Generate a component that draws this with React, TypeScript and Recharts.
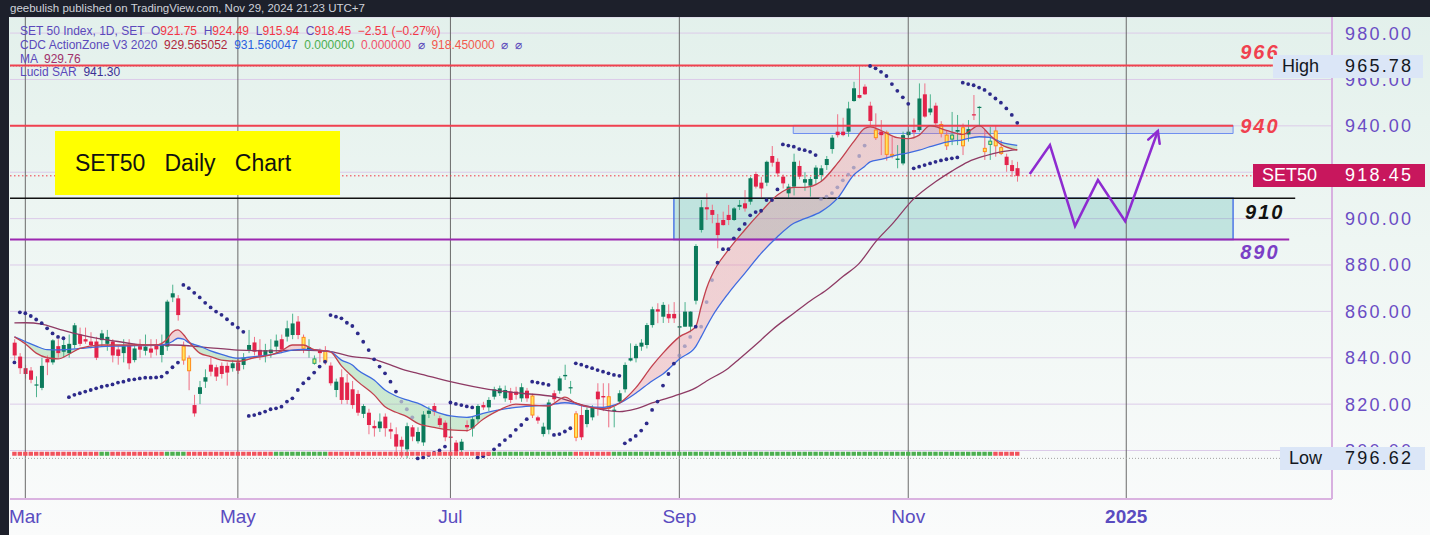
import React from 'react';
import {
  ComposedChart, XAxis, YAxis, CartesianGrid, Bar, Line, Area, Scatter,
  ReferenceLine, ReferenceArea, ReferenceDot,
} from 'recharts';

// ---------------- data (bar index: 0 = 1 Mar 2024, -2 = 28 Feb) ----------------
const FIRST_BAR = -2;

const OPEN = [
  846.5, 840.5, 835.5, 834.5, 828, 827, 839.5, 838, 845, 842.6,
  842, 845.5, 850, 848, 847, 847, 847.6, 846, 847, 843.6,
  842, 845.5, 839, 845, 843, 844, 845.8, 841.2, 844.8, 866,
  865.6, 845, 839.8, 819.6, 824.4, 829.7, 837, 835.9, 836.5, 836.5,
  835.5, 838, 836.9, 843.4, 846.6, 843.4, 841.2, 842, 844.8, 848,
  849.1, 849.8, 855.6, 848.8, 843.2, 837.6, 843, 843, 836.6, 826.1,
  831.6, 829.3, 826.4, 824.4, 815.8, 816.3, 810.6, 809.6, 814.6, 809.2,
  807, 804.6, 800.5, 810, 804, 803.5, 815.8, 819.2, 813.9, 812,
  806, 803.4, 800.2, 811, 809.5, 813.5, 819.6, 818.6, 823.2, 824.7,
  822.5, 825.4, 825.4, 822.5, 825.8, 823.5, 814.3, 807.1, 809, 824.7,
  825.8, 832, 826.8, 815.8, 815.3, 811.4, 814.3, 825.4, 823.5, 823.2,
  817.2, 821.1, 826.4, 838.8, 839.8, 844.8, 845.5, 854.1, 860.9, 857.7,
  858.9, 858.9, 853, 853.4, 853.4, 864.6, 895.1, 904.9, 903.7, 898.2,
  899.4, 901.6, 899.4, 905.1, 906.6, 907.3, 919.2, 915.5, 915.5, 927,
  924.5, 918.1, 910.9, 913.8, 922.7, 915.5, 914.2, 917.1, 918.8, 923.1,
  930, 937.5, 937.5, 937.5, 950.7, 953.3, 956.9, 948.7, 938.2, 937.5,
  937.2, 927.7, 925.3, 923.8, 936, 938.2, 938.2, 953.6, 945.8, 948.7,
  940.6, 936, 934.3, 937.5, 939.2, 936.3, 945, 947.8, 930.3, 932,
  937.8, 930.6, 926.7, 923.1, 921.75,
];
const HIGH = [
  848, 842, 837, 836, 832, 840, 841, 848, 848, 848,
  850, 855, 853, 853, 851, 849, 852, 852, 848, 845,
  848, 848, 846, 848, 850, 848, 848, 850, 865, 871.5,
  867, 847, 841, 824, 830, 835, 840, 837, 838, 838,
  839, 840, 842, 852, 849, 848, 846, 848, 850, 850,
  856, 859, 858, 850, 848, 841, 844, 845, 838, 831,
  835, 833, 830, 826, 820, 818, 813, 816, 816, 812,
  810, 806, 812, 811, 810, 817, 819, 820.5, 815, 813,
  810, 804.5, 805, 813, 814.5, 820, 821, 823, 827.5, 828,
  828, 827, 827.5, 829, 827, 824.5, 815, 812, 822, 826,
  832, 837, 830, 817, 820, 818.5, 819.5, 829, 829, 829,
  819, 826, 838, 846.2, 846, 848, 855, 862, 863.5, 864,
  863, 864, 859, 864, 860, 889, 908, 910.9, 906, 902,
  903, 905.9, 905, 908, 912.3, 918, 920.2, 918, 925, 931.3,
  926, 919, 915, 928, 925, 920, 918, 923, 923, 927,
  936, 945, 943.5, 950.4, 959, 965.78, 957.9, 950.4, 945.4, 942.5,
  938, 935.3, 931.7, 937.5, 938.5, 943.2, 958.3, 958.3, 953.6, 950,
  942, 937.8, 946, 944.7, 941, 942.5, 953.3, 948.5, 938.2, 939.6,
  940.3, 933.9, 928, 925.2, 924.49,
];
const LOW = [
  839, 833, 831, 829, 823, 826, 832.5, 837, 840, 840,
  840, 844, 845, 846, 844, 839, 845, 843, 838, 837,
  838, 835, 838, 840, 841, 840, 841, 838, 843, 864,
  856, 837, 826, 814.6, 820, 827, 832, 830, 831, 828,
  834, 833, 835, 842, 841, 839, 838, 840, 842, 842,
  847, 848, 848, 842, 840, 837, 838, 837, 828, 823,
  820, 820, 818, 815, 814, 807, 806, 808, 806, 805,
  797.5, 797, 796.62, 804, 803, 802, 814, 815, 810, 804,
  797.5, 798, 799, 808, 806, 812, 817.5, 817, 822, 823.5,
  821, 820.5, 822, 821, 821, 814, 811.5, 806, 807, 821,
  824.5, 830.4, 824.5, 804, 804.5, 810, 813, 815, 817, 810,
  810, 820, 825, 838.4, 838, 843, 844, 853, 854.9, 855,
  855, 855, 849.5, 853.4, 851, 863, 894, 899.4, 898, 887.2,
  897, 897.2, 899, 903.7, 903, 906, 913, 908.7, 914, 922.4,
  918, 913, 909, 910, 917, 912, 909.5, 915, 916, 921,
  928, 935, 935.5, 935.3, 950.4, 951.8, 953.3, 939.6, 933.9, 927.4,
  925, 926, 921.7, 923, 935, 934.6, 937.5, 943.5, 944.6, 940,
  935, 929.6, 931.7, 931.7, 927.4, 933.2, 942.5, 939.6, 925.3, 925.3,
  926.7, 927.4, 920.2, 918, 915.94,
];
const CLOSE = [
  841, 835.5, 833, 830.5, 828.5, 836.5, 838, 847.5, 842, 845.5,
  846, 854, 846, 847, 845.5, 840, 850.5, 849, 841, 840.8,
  845, 837.6, 844, 843.5, 844.8, 842.2, 843.6, 845.5, 864.2, 867.8,
  858.4, 839, 834.4, 816, 827.3, 831.6, 834, 831.9, 833, 833.6,
  837.6, 834.4, 839.8, 845.5, 842.6, 840.8, 843.3, 843.5, 847.4, 843.5,
  852.7, 854.8, 849.8, 844.1, 844.5, 839.5, 842, 838.3, 829, 829.7,
  821.8, 821.8, 819.6, 816.3, 819.2, 811, 809.6, 812.5, 809.6, 808.2,
  801.7, 801.7, 810.5, 806, 808, 815.5, 817.2, 816.8, 811, 805.7,
  805.5, 799.5, 803.8, 810, 813.5, 819.2, 818.6, 821.8, 826.4, 826.8,
  826.1, 821.8, 824, 827.3, 822.5, 815.3, 812.9, 810.3, 820.7, 822.1,
  831.1, 832.6, 827.3, 805.7, 805.7, 817.5, 818.6, 822.1, 822.9, 818.2,
  817.6, 824.7, 836.9, 839.8, 845.1, 846.5, 854.1, 860.9, 859.9, 862.8,
  857, 857, 853.6, 859.9, 859.9, 888.2, 904.9, 904, 901.6, 892.9,
  897.2, 899.4, 904.4, 905.9, 904.4, 917.4, 913.8, 913, 924.5, 924.1,
  919.5, 915.2, 913.8, 924.5, 918.1, 917, 917.1, 922, 921.7, 925.7,
  934.9, 936, 936, 947.5, 956.2, 952.1, 953.6, 942.1, 934.9, 936,
  927.7, 927.1, 925.9, 936, 937.5, 937.2, 951.8, 944, 947.5, 941.1,
  936.8, 931.4, 936, 938.2, 931.4, 938.6, 944.5, 948.2, 928.9, 933.4,
  931.4, 928.1, 923.1, 920.5, 918.45,
];
// candle colouring by the CDC ActionZone: g = green, r = red, o = orange/yellow, y = yellow (green edge)
const KIND = (
  'rrrrggrgrg' + 'ggrrrrggrr' + 'grgrgrrggg' + 'roorggrrrr' + 'grggrrgggr' +
  'ggrogyrorg' + 'rrrrgrrgrr' + 'rrgrgggrrr' + 'rrgrggrggg' + 'grrgrorggr' +
  'gggorggrro' + 'ggggggggrg' + 'rrgggggrrr' + 'rrggrgrrgr' + 'rrggrggggg' +
  'grrggrrror' + 'oogggrgrgr' + 'ooygogrgoy' + 'oorrr'
).split('');

// zone strip at the bottom (runs of bars)
const ZONE_RUNS: [string, number][] = [
  ['r', 16], ['g', 2], ['r', 10], ['g', 4], ['r', 16], ['g', 10],
  ['r', 30], ['g', 15], ['r', 7], ['g', 70], ['r', 5],
];
const ZONE_LEVEL = 798.6;

// Lucid SAR, one value per bar
const SAR = [
  838, 859.6, 859.2, 858, 856.5, 854.9, 852.7, 850.5, 849, 848.4,
  823, 824, 824.7, 825.4, 826.1, 826.8, 827.5, 828, 828.5, 829.3,
  829.7, 830.4, 830.7, 831.1, 831.4, 831.4, 831.5, 831.9, 833.6, 835.9,
  837.9, 871.4, 870, 868, 866, 863.7, 861.7, 859.9, 858.5, 856.6,
  854.6, 853, 851.2, 814.9, 815.3, 816, 816.8, 817.8, 818.2, 818.9,
  821.1, 822.5, 826.1, 829, 831.1, 833.6, 836.2, 838.3, 858.4, 857.7,
  857, 855.1, 853.7, 850.5, 846.9, 843.3, 839.3, 836.2, 833.3, 829.7,
  825.4, 821.1, 817.8, 814.3, 796.6, 797, 798.1, 799, 800, 801.7,
  820.7, 820.1, 819.6, 819, 818.6, 797, 797.5, 798.5, 800.5, 802.4,
  804.5, 806.3, 808.9, 811, 813.5, 829.7, 829.3, 828.8, 828.3, 806.7,
  807.1, 808.2, 809.6, 837.6, 837, 836.2, 835.5, 834.7, 834, 833.3,
  832.6, 832.2, 803.1, 804.6, 806.3, 808.6, 811.7, 817.5, 821.1, 828,
  833, 837.5, 841, 845, 849, 853.4, 853.4, 864, 873.5, 881,
  886.8, 886.8, 891.5, 895.4, 897.7, 901.4, 902.8, 903.4, 908, 908,
  912.6, 932, 931.5, 931, 930, 929.5, 928.8, 927.4, 908.5, 909.5,
  911, 913.5, 916.5, 919, 922, 927, 931.5, 965.8, 964.8, 963.3,
  961.5, 958, 955.1, 952.3, 949.5, 921.7, 922.4, 923.1, 923.8, 924.5,
  925.1, 925.6, 926, 926.4, 958.6, 958, 957.5, 956.5, 955.5, 953.7,
  951.8, 950, 947.5, 944.7, 941.3,
];

// CDC ActionZone fast / slow EMA read at these bars
const EMA_IDX = [
  -2, 0, 2, 4, 6, 8, 10, 14, 16, 20,
  24, 26, 27, 28, 29, 30, 32, 34, 36, 39,
  42, 45, 47, 49, 51, 53, 55, 56, 58, 60,
  61, 64, 66, 68, 70, 72, 75, 78, 81, 84,
  87, 90, 93, 96, 99, 101, 103, 106, 109, 112,
  115, 117, 120, 123, 124, 125, 126, 129, 132, 135,
  138, 141, 143, 146, 149, 152, 154, 155, 157, 160,
  162, 164, 166, 169, 172, 175, 177, 179, 182,
];
const EMA_FAST = [
  849, 846, 842, 840, 839.5, 841.5, 844, 845.5, 845.5, 845.5,
  845.5, 848, 851, 852, 850, 847, 842, 840.5, 839, 838.5,
  840, 841.2, 843, 845.5, 845.5, 843.5, 843, 842.5, 836.5, 831.9,
  829.7, 824, 818.9, 816.5, 814.6, 811.7, 810, 808.9, 808.6, 813.5,
  817.5, 820, 819.5, 819.2, 823, 820.4, 818.9, 818, 820.4, 827,
  836.5, 842, 849, 853.4, 862, 870, 875.7, 886.5, 895.1, 903,
  910.2, 913.5, 913.5, 916, 923.8, 933.2, 938.9, 939.6, 938, 934.9,
  934.5, 936, 940.1, 938, 936.3, 940.1, 936, 932, 929.57,
];
const EMA_SLOW = [
  849, 847, 845, 843.5, 843.4, 843.6, 844, 844.8, 845, 845.2,
  845.3, 846, 847, 848.4, 848, 846.5, 845, 843, 841.5, 839.8,
  840.5, 841.2, 842.2, 843.3, 843.6, 843.5, 843, 842.6, 839, 836.9,
  834.7, 830.4, 826.1, 823.5, 821.8, 820.4, 817, 814.9, 814.3, 816,
  817.5, 818.6, 819.2, 819.6, 820.6, 820, 818.9, 818.6, 820.4, 824.7,
  830, 833, 839.5, 844.8, 849, 853.5, 857.7, 867.8, 876.4, 885,
  892.2, 898, 900, 903, 908.7, 918.8, 922.5, 924.5, 925.5, 927.5,
  928.3, 929.5, 931, 933, 934, 935.3, 935, 933, 931.56,
];

// MA read at these bars
const MA_IDX = [
  -2, 0, 3, 6, 9, 13, 17, 22, 27, 33,
  39, 45, 51, 56, 60, 64, 67, 70, 72, 78,
  85, 91, 97, 103, 109, 112, 115, 119, 123, 125,
  129, 131, 135, 137, 141, 144, 147, 150, 153, 156,
  159, 163, 167, 170, 173, 176, 179, 182,
];
const MA_VAL = [
  855, 855.1, 854.5, 852.5, 850.5, 848.5, 847, 845.5, 845.5, 844.5,
  843.3, 843, 843.3, 842.6, 840.5, 839.3, 836.9, 834.4, 833.3, 829.7,
  826.4, 824.7, 823.2, 819.2, 816.8, 818, 820.5, 823.5, 827, 830,
  835.5, 839.5, 847.7, 852, 859.2, 864.5, 869.2, 875, 880.7, 890,
  897.5, 908.5, 915.9, 920.5, 924.5, 927, 928.8, 929.76,
];

// hand-drawn projection (zig-zag) in bar / price units
const PROJ_IDX = [184.3, 188, 192.6, 196.8, 201.8, 207.8];
const PROJ_VAL = [919.2, 931.7, 896.8, 916.6, 898.9, 937.8];

const MONTH_TICKS = [0, 39, 78, 120, 162, 202];
const MONTH_LABELS = ['Mar', 'May', 'Jul', 'Sep', 'Nov', '2025'];
const PRICE_TICKS = [800, 820, 840, 860, 880, 900, 920, 940, 960, 980];

const LEVEL_HIGH = 966;
const LEVEL_RES = 940;
const LEVEL_SUP1 = 908.8;
const LEVEL_SUP2 = 891;
const LAST_PRICE = 918.45;
const PERIOD_HIGH = 965.78;
const PERIOD_LOW = 796.62;
const RES_ZONE = { x1: 140.9, x2: 221.6, y1: 936.7, y2: 940.2 };
const SUP_ZONE = { x1: 119, x2: 221.6, y1: LEVEL_SUP2, y2: LEVEL_SUP1 };
const LINE_END = { high: 228.9, res: 221.6, sup1: 233, sup2: 231.9, last: 225.3, low: 230.2 };
const LABEL_X = 222.9;

// ---------------- geometry ----------------
const W = 1430;
const H = 535;
const PLOT = { left: 10, top: 17, right: 1332, bottom: 499 };
const Y_DOMAIN: [number, number] = [779.09, 986.94];
const X_DOMAIN: [number, number] = [-2.81, 239.75];
const yPix = (v: number) =>
  PLOT.top + ((Y_DOMAIN[1] - v) / (Y_DOMAIN[1] - Y_DOMAIN[0])) * (PLOT.bottom - PLOT.top);

// ---------------- derived tables ----------------
const candles = OPEN.map((o, k) => ({
  i: FIRST_BAR + k, o, h: HIGH[k], l: LOW[k], c: CLOSE[k], k: KIND[k],
}));
const zones: { i: number; v: number; z: string }[] = [];
{
  let bar = FIRST_BAR;
  ZONE_RUNS.forEach(([z, n]) => {
    for (let j = 0; j < n; j++) zones.push({ i: bar++, v: ZONE_LEVEL, z });
  });
}
// band (between the two EMAs) at any bar, for dimming SAR dots that sit under the fill
const bandAt = (i: number) => {
  for (let k = 1; k < EMA_IDX.length; k++) {
    if (i <= EMA_IDX[k]) {
      const t = (i - EMA_IDX[k - 1]) / (EMA_IDX[k] - EMA_IDX[k - 1]);
      const f = EMA_FAST[k - 1] + t * (EMA_FAST[k] - EMA_FAST[k - 1]);
      const s = EMA_SLOW[k - 1] + t * (EMA_SLOW[k] - EMA_SLOW[k - 1]);
      return [Math.min(f, s), Math.max(f, s)];
    }
  }
  return [0, 0];
};
const sarData = SAR.map((v, k) => {
  const i = FIRST_BAR + k;
  const [lo, hi] = bandAt(i);
  return { i, v, dim: v > lo + 0.3 && v < hi - 0.3 };
});
const fastData = EMA_IDX.map((i, k) => ({ i, v: EMA_FAST[k] }));
const slowData = EMA_IDX.map((i, k) => ({ i, v: EMA_SLOW[k] }));
const bandData = EMA_IDX.map((i, k) => ({
  i, band: [Math.min(EMA_FAST[k], EMA_SLOW[k]), Math.max(EMA_FAST[k], EMA_SLOW[k])],
}));
const maData = MA_IDX.map((i, k) => ({ i, v: MA_VAL[k] }));
const projData = PROJ_IDX.map((i, k) => ({ i, v: PROJ_VAL[k] }));

const PINK = 'rgba(238,120,135,0.30)';
const GREEN = 'rgba(110,195,120,0.30)';
const bandStops = (() => {
  const i0 = EMA_IDX[0];
  const iN = EMA_IDX[EMA_IDX.length - 1];
  const d = EMA_IDX.map((_, k) => EMA_FAST[k] - EMA_SLOW[k]);
  const stops: { off: number; col: string }[] = [];
  let sign = 0;
  for (let k = 0; k < d.length; k++) {
    if (d[k] !== 0) { sign = Math.sign(d[k]); break; }
  }
  stops.push({ off: 0, col: sign > 0 ? PINK : GREEN });
  let prevK = 0;
  for (let k = 1; k < d.length; k++) {
    if (d[k] === 0) continue;
    const s = Math.sign(d[k]);
    if (s !== sign) {
      const a = d[prevK];
      let ic: number;
      if (a !== 0 && Math.sign(a) !== s) ic = EMA_IDX[prevK] + (EMA_IDX[k] - EMA_IDX[prevK]) * (a / (a - d[k]));
      else ic = EMA_IDX[k - 1];
      const t = (ic - i0) / (iN - i0);
      stops.push({ off: t, col: sign > 0 ? PINK : GREEN });
      stops.push({ off: t, col: s > 0 ? PINK : GREEN });
      sign = s;
    }
    prevK = k;
  }
  stops.push({ off: 1, col: sign > 0 ? PINK : GREEN });
  return stops;
})();

// ---------------- shapes ----------------
const CANDLE_STYLE: Record<string, { body: string; edge: string; wick: string }> = {
  g: { body: '#0b7a5b', edge: '#0b7a5b', wick: '#4db38e' },
  r: { body: '#e3234b', edge: '#e3234b', wick: '#ef7388' },
  o: { body: '#ffe55c', edge: '#ff8c1a', wick: '#ee6a80' },
  y: { body: '#f3ef6a', edge: '#1f9e6a', wick: '#4db38e' },
};

const Candle = (props: any) => {
  const { x, y, width, height, payload } = props;
  if (x == null || y == null) return null;
  const top = Math.min(y, y + height);
  const bot = Math.max(y, y + height);
  const span = payload.h - payload.l;
  const py = (v: number) => (span === 0 ? top : top + ((payload.h - v) / span) * (bot - top));
  const yo = py(payload.o);
  const yc = py(payload.c);
  const st = CANDLE_STYLE[payload.k] || CANDLE_STYLE.g;
  const cx = x + width / 2;
  const bodyTop = Math.min(yo, yc);
  const bodyH = Math.max(1.2, Math.abs(yc - yo));
  const hollow = payload.k === 'o' || payload.k === 'y';
  return (
    <g>
      <line x1={cx} x2={cx} y1={top} y2={bot} stroke={st.wick} strokeWidth={1} />
      <rect
        x={x + (hollow ? 0.5 : 0)} y={bodyTop} width={width - (hollow ? 1 : 0)} height={bodyH}
        fill={st.body} stroke={st.edge} strokeWidth={hollow ? 1 : 0}
      />
    </g>
  );
};

const SarDot = (p: any) => (
  <circle cx={p.cx} cy={p.cy} r={1.9} fill={p.payload.dim ? '#8f8cb8' : '#2d2a8a'} fillOpacity={p.payload.dim ? 0.7 : 1} />
);
const ZoneMark = (p: any) => (
  <rect x={p.cx - 2.2} y={p.cy - 2} width={4.4} height={4} fill={p.payload.z === 'g' ? '#4caf50' : '#f2525c'} />
);

let prevProj: { x: number; y: number } | null = null;
const ProjDot = (p: any) => {
  if (p.index === projData.length - 2) prevProj = { x: p.cx, y: p.cy };
  if (p.index !== projData.length - 1 || !prevProj) return <g key={`pd${p.index}`} />;
  const dx = p.cx - prevProj.x;
  const dy = p.cy - prevProj.y;
  const len = Math.hypot(dx, dy) || 1;
  const ux = -dx / len;
  const uy = -dy / len;
  const arm = 13;
  const ang = (28 * Math.PI) / 180;
  const rot = (a: number) => ({
    x: p.cx + arm * (ux * Math.cos(a) - uy * Math.sin(a)),
    y: p.cy + arm * (ux * Math.sin(a) + uy * Math.cos(a)),
  });
  const a1 = rot(ang);
  const a2 = rot(-ang);
  return (
    <g key={`pd${p.index}`}>
      <polyline points={`${a1.x},${a1.y} ${p.cx},${p.cy} ${a2.x},${a2.y}`} fill="none" stroke="#8e2bd0" strokeWidth={2.5} strokeLinecap="round" />
    </g>
  );
};

const levelLabel = (text: string, color: string, dy: number) => (p: any) => (
  <text
    x={p.cx} y={p.cy} dy={dy} fill={color} fontSize={20} fontWeight={700} fontStyle="italic"
    letterSpacing={2} fontFamily="Liberation Sans, Arial, sans-serif"
  >{text}</text>
);

const PriceTick = (p: any) => (
  <text
    x={p.x} y={p.y} dy={6.5} fill="#6a4cc4" fontSize={18} letterSpacing={2.2}
    fontFamily="Liberation Sans, Arial, sans-serif" textAnchor="start"
  >{Number(p.payload.value).toFixed(2)}</text>
);

const MonthTick = (p: any) => {
  const idx = MONTH_TICKS.indexOf(p.payload.value);
  const label = MONTH_LABELS[idx] ?? '';
  return (
    <text
      x={p.x} y={p.y} dy={24} textAnchor="middle" fill="#5a4cc0" fontSize={19}
      fontWeight={label === '2025' ? 700 : 400} fontFamily="Liberation Sans, Arial, sans-serif"
    >{label}</text>
  );
};

// ---------------- overlays ----------------
const FONT = 'Liberation Sans, Arial, sans-serif';
const PURPLE = '#5b49bb';
const RED = '#f23645';

const AxisBox = ({ value, label, left, width, bg, color }: any) => {
  const cy = yPix(value);
  return (
    <div style={{
      position: 'absolute', left, top: cy - 11.5, width, height: 23, background: bg,
      fontFamily: FONT, fontSize: 18, color, lineHeight: '23px',
    }}>
      <span style={{ position: 'absolute', left: 9 }}>{label}</span>
      <span style={{ position: 'absolute', left: PLOT.right + 13 - left, letterSpacing: 2.2 }}>{value.toFixed(2)}</span>
    </div>
  );
};

export default function App() {
  return (
    <div style={{
      position: 'absolute', left: 0, top: 0, width: W, height: H, overflow: 'hidden',
      background: 'linear-gradient(180deg, #e2f0eb 0%, #eef6f3 45%, #fafbfb 100%)',
    }}>
      <ComposedChart
        width={W} height={H} data={candles}
        margin={{ top: PLOT.top, right: 0, left: PLOT.left, bottom: 0 }}
      >
        <defs>
          <linearGradient id="bandFill" x1="0" y1="0" x2="1" y2="0">
            {bandStops.map((s, k) => (
              <stop key={k} offset={s.off} stopColor={s.col} />
            ))}
          </linearGradient>
        </defs>
        <CartesianGrid vertical={false} stroke="#dccbe9" strokeWidth={1} />
        <XAxis
          type="number" dataKey="i" domain={X_DOMAIN} allowDataOverflow
          ticks={MONTH_TICKS} tick={<MonthTick />} tickLine={false} tickSize={0} tickMargin={0}
          axisLine={{ stroke: '#dab3e0', strokeWidth: 2 }} height={H - PLOT.bottom}
          interval={0}
        />
        <YAxis
          orientation="right" type="number" domain={Y_DOMAIN} allowDataOverflow
          ticks={PRICE_TICKS} tick={<PriceTick />} tickLine={false} tickSize={0} tickMargin={13}
          axisLine={{ stroke: '#d8b0e0', strokeWidth: 2 }} width={W - PLOT.right} interval={0}
        />

        {MONTH_TICKS.map((t) => (
          <ReferenceLine key={`m${t}`} x={t} stroke="#6a6a6a" strokeWidth={1} />
        ))}

        <ReferenceArea {...SUP_ZONE} fill="#26a69a" fillOpacity={0.22} stroke="#4f78e6" strokeWidth={1.5} />
        <ReferenceArea {...RES_ZONE} fill="#6f78e0" fillOpacity={0.18} stroke="#6f8ff0" strokeWidth={1} />

        <ReferenceLine segment={[{ x: X_DOMAIN[0], y: PERIOD_HIGH }, { x: LINE_END.high, y: PERIOD_HIGH }]} stroke="#9a9a9a" strokeDasharray="1 2" />
        <ReferenceLine segment={[{ x: X_DOMAIN[0], y: PERIOD_LOW }, { x: LINE_END.low, y: PERIOD_LOW }]} stroke="#a0a0a0" strokeDasharray="1 2" />
        <ReferenceLine segment={[{ x: X_DOMAIN[0], y: LEVEL_HIGH }, { x: LINE_END.high, y: LEVEL_HIGH }]} stroke="#f0414f" strokeWidth={2} />
        <ReferenceLine segment={[{ x: X_DOMAIN[0], y: LEVEL_RES }, { x: LINE_END.res, y: LEVEL_RES }]} stroke="#f0414f" strokeWidth={2} />
        <ReferenceLine segment={[{ x: X_DOMAIN[0], y: LEVEL_SUP1 }, { x: LINE_END.sup1, y: LEVEL_SUP1 }]} stroke="#111111" strokeWidth={1.5} />
        <ReferenceLine segment={[{ x: X_DOMAIN[0], y: LEVEL_SUP2 }, { x: LINE_END.sup2, y: LEVEL_SUP2 }]} stroke="#9c27b0" strokeWidth={2} />
        <ReferenceLine segment={[{ x: X_DOMAIN[0], y: LAST_PRICE }, { x: LINE_END.last, y: LAST_PRICE }]} stroke="#f23645" strokeWidth={1} strokeDasharray="1.5 2.5" />

        <Scatter data={sarData} dataKey="v" shape={<SarDot />} isAnimationActive={false} />
        <Area data={bandData} dataKey="band" type="linear" stroke="none" fill="url(#bandFill)" fillOpacity={1} isAnimationActive={false} dot={false} activeDot={false} />
        <Line data={maData} dataKey="v" type="monotone" stroke="#8e3a64" strokeWidth={1.3} dot={false} activeDot={false} isAnimationActive={false} />
        <Line data={slowData} dataKey="v" type="monotone" stroke="#3f6be0" strokeWidth={1.3} dot={false} activeDot={false} isAnimationActive={false} />
        <Line data={fastData} dataKey="v" type="monotone" stroke="#c2414e" strokeWidth={1.3} dot={false} activeDot={false} isAnimationActive={false} />
        <Bar dataKey={(d: any) => [d.l, d.h]} barSize={4} shape={<Candle />} isAnimationActive={false} />
        <Scatter data={zones} dataKey="v" shape={<ZoneMark />} isAnimationActive={false} />
        <Line data={projData} dataKey="v" type="linear" stroke="#8e2bd0" strokeWidth={2.5} dot={ProjDot} activeDot={false} isAnimationActive={false} />

        <ReferenceDot x={LABEL_X} y={LEVEL_HIGH} r={0} shape={levelLabel('966', '#f0414f', -7)} />
        <ReferenceDot x={LABEL_X} y={LEVEL_RES} r={0} shape={levelLabel('940', '#f0414f', 7)} />
        <ReferenceDot x={LABEL_X + 0.9} y={LEVEL_SUP1} r={0} shape={levelLabel('910', '#111111', 21)} />
        <ReferenceDot x={LABEL_X} y={LEVEL_SUP2} r={0} shape={levelLabel('890', '#7b3fc6', 20)} />
      </ComposedChart>

      {/* header band + left strip */}
      <div style={{ position: 'absolute', left: 0, top: 0, width: W, height: PLOT.top, background: '#1d202b' }} />
      <div style={{ position: 'absolute', left: 0, top: 0, width: 9, height: H, background: '#1d202b' }} />
      <div style={{ position: 'absolute', left: 10, top: 1, fontFamily: FONT, fontSize: 11.5, color: '#cfd2da', whiteSpace: 'pre', lineHeight: '14px' }}>
        geebulish published on TradingView.com, Nov 29, 2024 21:23 UTC+7
      </div>

      {/* legend */}
      <div style={{ position: 'absolute', left: 20, top: 25, fontFamily: FONT, fontSize: 12, lineHeight: '13.8px', color: PURPLE, whiteSpace: 'pre' }}>
        <div>
          SET 50 Index, 1D, SET  O<span style={{ color: RED }}>921.75</span>  H<span style={{ color: RED }}>924.49</span>  L<span style={{ color: RED }}>915.94</span>  C<span style={{ color: RED }}>918.45</span>  <span style={{ color: RED }}>−2.51 (−0.27%)</span>
        </div>
        <div>
          CDC ActionZone V3 2020  <span style={{ color: '#b0283c' }}>929.565052</span>  <span style={{ color: '#2a5fe0' }}>931.560047</span>  <span style={{ color: '#4caf50' }}>0.000000</span>  <span style={{ color: '#f2506a' }}>0.000000</span>  ⌀  <span style={{ color: '#f25a4e' }}>918.450000</span>  ⌀  ⌀
        </div>
        <div>
          MA  <span style={{ color: '#a0306a' }}>929.76</span>
        </div>
        <div>
          Lucid SAR  <span style={{ color: '#3b2f95' }}>941.30</span>
        </div>
      </div>

      {/* title box */}
      <div style={{
        position: 'absolute', left: 55, top: 131, width: 285, height: 64, background: '#ffff00',
        fontFamily: FONT, fontSize: 23, color: '#111', lineHeight: '64px', whiteSpace: 'pre', paddingLeft: 20, boxSizing: 'border-box',
      }}>
        SET50   Daily   Chart
      </div>

      {/* price-axis boxes */}
      <AxisBox value={PERIOD_HIGH} label="High" left={1273} width={150} bg="#dbe6f7" color="#131722" />
      <AxisBox value={PERIOD_LOW} label="Low" left={1280} width={145} bg="#dbe6f7" color="#131722" />
      <AxisBox value={LAST_PRICE} label="SET50" left={1253} width={172} bg="#c8175d" color="#ffffff" />
    </div>
  );
}
